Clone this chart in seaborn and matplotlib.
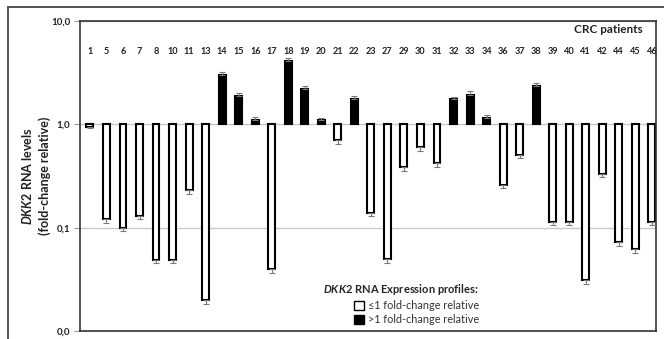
import numpy as np
import pandas as pd
import matplotlib
matplotlib.use("Agg")
import matplotlib.pyplot as plt
import matplotlib.transforms as mtransforms
from matplotlib.patches import Patch, Rectangle
import seaborn as sns

# DKK2 RNA fold-change per CRC patient
patients = ["1", "5", "6", "7", "8", "10", "11", "13", "14", "15", "16", "17",
            "18", "19", "20", "21", "22", "23", "27", "29", "30", "31", "32",
            "33", "34", "36", "37", "38", "39", "40", "41", "42", "44", "45", "46"]
fold_change = [0.95, 0.12, 0.10, 0.13, 0.049, 0.049, 0.23, 0.020, 3.0, 1.88,
               1.11, 0.040, 4.1, 2.22, 1.09, 0.70, 1.74, 0.14, 0.050, 0.385,
               0.60, 0.42, 1.74, 1.94, 1.16, 0.26, 0.51, 2.34, 0.113, 0.113,
               0.031, 0.33, 0.072, 0.062, 0.113]
# relative standard deviation of each measurement
rel_error = [0.04, 0.07, 0.07, 0.07, 0.07, 0.07, 0.07, 0.08, 0.07, 0.08,
             0.07, 0.08, 0.08, 0.07, 0.06, 0.07, 0.07, 0.07, 0.08, 0.08,
             0.07, 0.08, 0.06, 0.08, 0.07, 0.07, 0.08, 0.08, 0.07, 0.07,
             0.08, 0.07, 0.08, 0.08, 0.07]
profile_labels = ["≤1 fold-change relative", ">1 fold-change relative"]
y_ticks = [0.01, 0.1, 1.0, 10.0]
y_tick_labels = ["0,0", "0,1", "1,0", "10,0"]

sns.set_style("white")
plt.rcParams["font.family"] = ["Lato", "DejaVu Sans"]
plt.rcParams["mathtext.fontset"] = "custom"
plt.rcParams["mathtext.it"] = "Lato:italic:bold"
plt.rcParams["mathtext.rm"] = "Lato:bold"
plt.rcParams["mathtext.bf"] = "Lato:bold"

fc = np.array(fold_change)
err = np.array(rel_error)
log_fc = np.log10(fc)
df = pd.DataFrame({
    "patient": patients,
    "log_fc": log_fc,
    "profile": [profile_labels[0] if v <= 1 else profile_labels[1] for v in fc],
})

fig = plt.figure(figsize=(6.64, 3.39), dpi=100)
ax = fig.add_axes([80 / 664, 1 - 331 / 339, 576 / 664, 310 / 339])

sns.barplot(data=df, x="patient", y="log_fc", hue="profile", order=patients,
            hue_order=profile_labels,
            palette={profile_labels[0]: "white", profile_labels[1]: "black"},
            dodge=False, width=0.42, edgecolor="black", linewidth=1.5,
            errorbar=None, legend=False, ax=ax, zorder=2)

# one-sided error bars pointing away from the 1.0 baseline
xs = np.arange(len(patients))
lower = np.where(fc <= 1, log_fc - np.log10(fc * (1 - err)), 0.0)
upper = np.where(fc > 1, np.log10(fc * (1 + err)) - log_fc, 0.0)
ax.errorbar(xs, log_fc, yerr=[lower, upper], fmt="none", ecolor="#7a7a7a",
            elinewidth=0.8, capsize=2, capthick=0.8, zorder=3)

ax.set_ylim(-2, 1)
ax.set_xlim(-0.6, 34.25)
ax.set_yticks(np.log10(y_ticks))
ax.set_yticklabels(y_tick_labels, fontweight="bold", color="#222222")
ax.yaxis.grid(True, color="#c8c8c8", linewidth=1.0)
ax.set_axisbelow(True)
ax.tick_params(axis="y", left=True, length=4, width=0.8, color="#999999",
               labelsize=7, pad=3)
ax.tick_params(axis="x", bottom=False, labelbottom=False)
ax.set_xlabel("")
ax.set_ylabel("")
for s in ax.spines.values():
    s.set_visible(True)
    s.set_color("#333333")
    s.set_linewidth(1.2)

# patient numbers along the top of the plot area
trans = mtransforms.blended_transform_factory(ax.transData, ax.transAxes)
for i, p in enumerate(patients):
    ax.text(i, 0.903, p, transform=trans, ha="center", va="center",
            fontsize=6.6, fontweight="bold", color="#222222")
ax.text(0.977, 0.974, "CRC patients", transform=ax.transAxes, ha="right",
        va="center", fontsize=8.5, fontweight="bold", color="#222222")

# axis title
fig.text(27 / 664, 0.481, r"$\mathit{DKK2}$ RNA levels", rotation=90,
         ha="center", va="center", fontsize=9, fontweight="bold", color="#222222")
fig.text(45 / 664, 0.481, "(fold-change relative)", rotation=90,
         ha="center", va="center", fontsize=9, fontweight="bold", color="#222222")

handles = [Patch(facecolor="white", edgecolor="black", linewidth=1.0),
           Patch(facecolor="black", edgecolor="black", linewidth=1.0)]
leg = fig.legend(handles=handles, labels=profile_labels,
                 title=r"$\mathit{DKK2}$ RNA Expression profiles:",
                 loc="upper left", bbox_to_anchor=(318 / 664, 1 - 277 / 339),
                 frameon=False, fontsize=7.8, title_fontsize=8,
                 handlelength=0.9, handleheight=0.9, handletextpad=0.4,
                 labelspacing=0.25, borderpad=0, alignment="right")
leg.get_title().set_fontweight("bold")
for t in leg.get_texts():
    t.set_color("#333333")

# outer frame
fig.add_artist(Rectangle((8 / 664, -0.1), 1.2, (1 - 7 / 339) + 0.1,
                         transform=fig.transFigure, fill=False,
                         edgecolor="#444444", linewidth=1.3))

fig.savefig("out.png", dpi=100)
